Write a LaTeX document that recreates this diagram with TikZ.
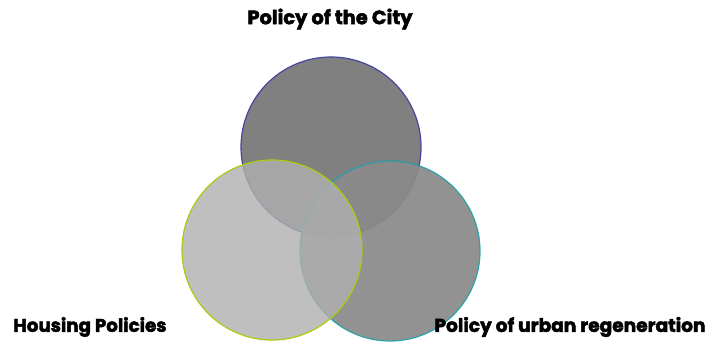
\documentclass[tikz,border=0pt]{standalone}
\usepackage{fontspec}
\newfontfamily\labfont{Poppins}[BoldFeatures={FakeBold=2.5}]
\definecolor{topfill}{HTML}{808080}
\definecolor{rightfill}{HTML}{8A8A8A}
\definecolor{leftfill}{HTML}{B0B0B0}
\definecolor{topedge}{HTML}{4646A0}
\definecolor{leftedge}{HTML}{A8CC10}
\definecolor{rightedge}{HTML}{20A0A8}
\tikzset{
  setcircle/.style={circle, minimum size=180pt, inner sep=0pt, line width=1.2pt},
  lab/.style={font=\labfont\bfseries, inner sep=0pt, text=black}
}
\begin{document}
\begin{tikzpicture}[x=1pt,y=-1pt]
\useasboundingbox (0,0) rectangle (708,342);
\fill[white] (0,0) rectangle (708,342);
\node[setcircle, fill=topfill, draw=topedge] (city) at (331,147) {};
\node[setcircle, fill=rightfill, fill opacity=0.93, draw=rightedge, draw opacity=0.9] (urban) at (390,251) {};
\node[setcircle, fill=leftfill, fill opacity=0.8, draw=leftedge] (housing) at (272,250) {};
\node[lab] (tcity) at (330,19) {\resizebox{165pt}{!}{Policy of the City}};
\node[lab] (thousing) at (90,327) {\resizebox{153pt}{!}{Housing Policies}};
\node[lab] (turban) at (570,327) {\resizebox{271pt}{!}{Policy of urban regeneration}};
\end{tikzpicture}
\end{document}
